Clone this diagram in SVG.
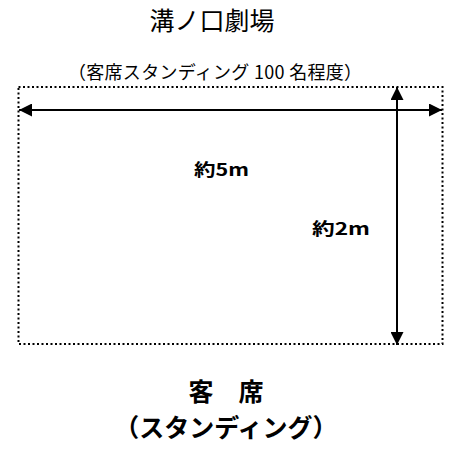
<svg xmlns="http://www.w3.org/2000/svg" width="452" height="454" viewBox="0 0 452 454">
<style>
.t{font-family:"Noto Sans CJK JP","Liberation Sans",sans-serif;fill:#000}
.b{font-weight:bold}
.ln{stroke:#000;stroke-width:2;fill:none}
</style>
<defs>
<marker id="ah" viewBox="0 0 10 10" refX="10" refY="5" markerWidth="7" markerHeight="6.5" orient="auto-start-reverse" markerUnits="strokeWidth">
<path d="M0,0 L10,5 L0,10 Z" fill="#000"/>
</marker>
</defs>
<rect width="452" height="454" fill="#fff"/>
<g id="title"><text class="t" x="212" y="30" font-size="25" text-anchor="middle">溝ノ口劇場</text></g>
<g id="subtitle"><text class="t" x="68" y="79" font-size="18" textLength="294" lengthAdjust="spacing">（客席スタンディング 100 名程度）</text></g>
<g id="area"><rect x="18.5" y="87" width="424" height="257" fill="none" stroke="#000" stroke-width="2" stroke-dasharray="2 2.5"/></g>
<g id="connectors">
<line class="ln" x1="19" y1="110" x2="442" y2="110" marker-start="url(#ah)" marker-end="url(#ah)"/>
<line class="ln" x1="397" y1="87" x2="397" y2="345" marker-start="url(#ah)" marker-end="url(#ah)"/>
</g>
<g id="width-label"><text class="t b" x="194" y="176" font-size="17" textLength="55" lengthAdjust="spacingAndGlyphs">約5m</text></g>
<g id="height-label"><text class="t b" x="312" y="235" font-size="17" textLength="58" lengthAdjust="spacingAndGlyphs">約2m</text></g>
<g id="seats"><text class="t b" x="226" y="401" font-size="25" text-anchor="middle">客　席</text>
<text class="t b" x="226" y="437" font-size="25" text-anchor="middle">（スタンディング）</text></g>
</svg>
